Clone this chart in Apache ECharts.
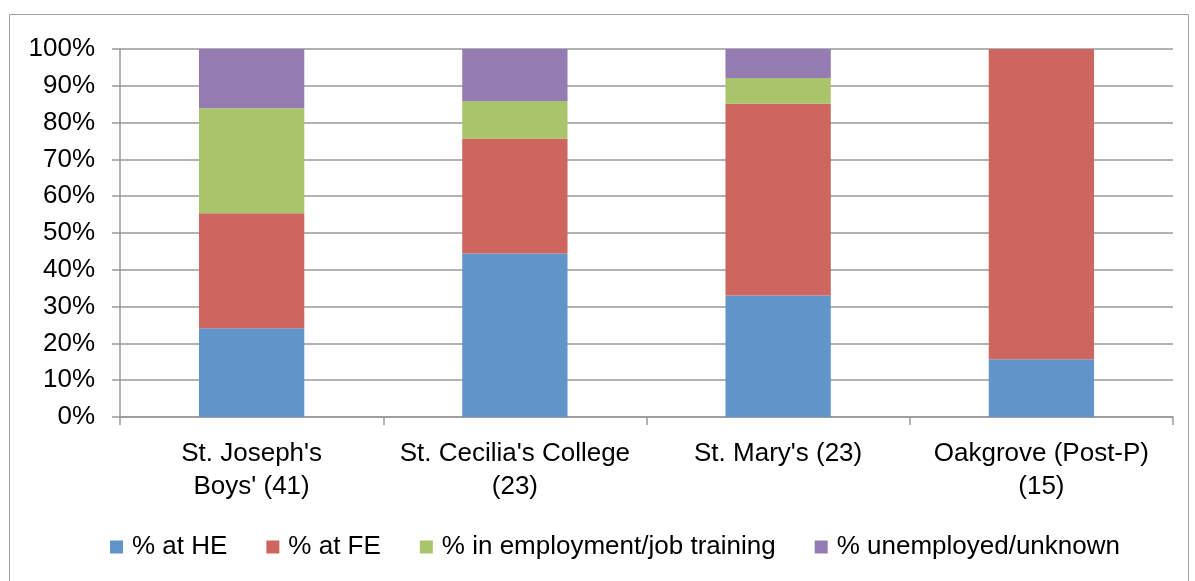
<!DOCTYPE html>
<html>
<head>
<meta charset="utf-8">
<script src="https://cdn.jsdelivr.net/npm/echarts@6/dist/echarts.min.js"></script>
<style>
  html, body { margin: 0; padding: 0; background: #fff; }
  #chart { width: 1195px; height: 581px; }
</style>
</head>
<body>
<div id="chart"></div>
<script>
// schools on the x axis
const schools = ["St. Joseph's\nBoys' (41)", "St. Cecilia's College\n(23)", "St. Mary's (23)", "Oakgrove (Post-P)\n(15)"];

// share of leavers per destination (%)
const atHE = [24.1, 44.4, 33.0, 15.7];
const atFE = [31.3, 31.3, 52.1, 84.3];
const inEmployment = [28.5, 10.2, 7.0, 0];
const unemployed = [16.1, 14.1, 7.9, 0];

const seriesNames = ['% at HE', '% at FE', '% in employment/job training', '% unemployed/unknown'];
const seriesColors = ['#6194C8', '#CD665F', '#A9C46B', '#947BB1'];

const font = "'Liberation Sans', Arial, sans-serif";
const chart = echarts.init(document.getElementById('chart'), null, { renderer: 'canvas' });

const values = [atHE, atFE, inEmployment, unemployed];

const option = {
    animation: false,
    backgroundColor: '#fff',
    textStyle: { fontFamily: font, color: '#000' },
    graphic: [{
        type: 'rect',
        shape: { x: 9.5, y: 14.5, width: 1179, height: 600 },
        style: { fill: 'none', stroke: '#a0a0a0', lineWidth: 1 },
        silent: true
    }],
    grid: { left: 120, right: 22, top: 49, bottom: 164, containLabel: false },
    legend: {
        bottom: 16,
        left: 105,
        itemWidth: 13,
        itemHeight: 13,
        itemGap: 39,
        icon: 'rect',
        textStyle: { fontFamily: font, fontSize: 26, color: '#000', padding: [0, 0, 0, 4] },
        data: seriesNames
    },
    xAxis: {
        type: 'category',
        data: schools,
        axisLine: { show: true, lineStyle: { color: '#999', width: 1.5 } },
        axisTick: { show: true, length: 8, lineStyle: { color: '#999', width: 1.5 } },
        axisLabel: { fontFamily: font, fontSize: 26, color: '#000', margin: 20, lineHeight: 33, interval: 0 }
    },
    yAxis: {
        type: 'value',
        min: 0,
        max: 100,
        interval: 10,
        axisLine: { show: true, lineStyle: { color: '#999', width: 1.5 } },
        axisTick: { show: true, length: 8, lineStyle: { color: '#999', width: 1.5 } },
        splitLine: { show: true, lineStyle: { color: '#999', width: 1.5 } },
        axisLabel: { fontFamily: font, fontSize: 26, color: '#000', margin: 25, padding: [6, 0, 0, 0], formatter: '{value}%' }
    },
    series: seriesNames.map(function (name, i) {
        return {
            name: name,
            type: 'bar',
            stack: 'total',
            barWidth: '40%',
            itemStyle: { color: seriesColors[i] },
            data: values[i]
        };
    })
};

chart.setOption(option);
</script>
</body>
</html>
